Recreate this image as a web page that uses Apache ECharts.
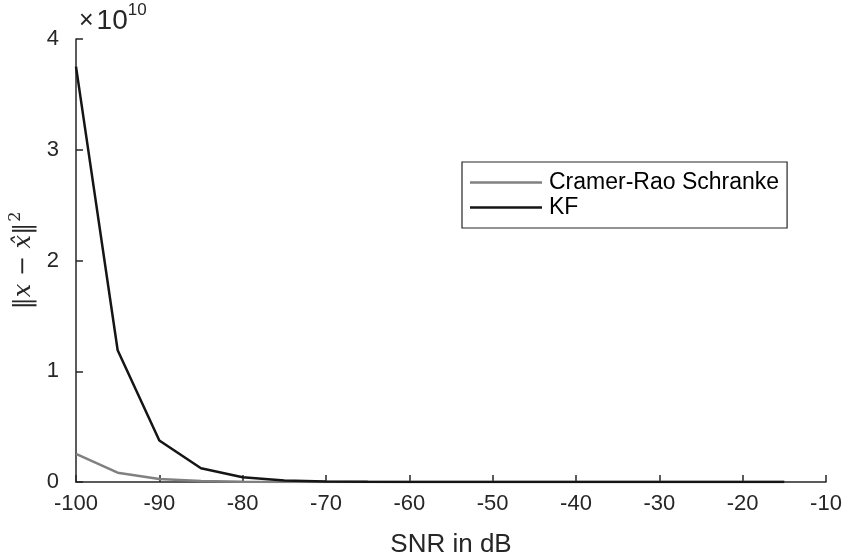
<!DOCTYPE html>
<html>
<head>
<meta charset="utf-8">
<script src="https://cdn.jsdelivr.net/npm/echarts@6/dist/echarts.min.js"></script>
<style>
  html, body { margin: 0; padding: 0; background: #fff; }
  #chart { width: 842px; height: 557px; }
</style>
</head>
<body>
<div id="chart"></div>
<script>
// SNR sweep in dB
const snrDb = [-100, -95, -90, -85, -80, -75, -70, -65, -60, -55, -50, -45, -40, -35, -30, -25, -20, -15];

// Squared estimation error, in units of 1e10
const cramerRao = [0.253, 0.084, 0.027, 0.0085, 0.0027, 0.00085, 0.00027, 0.000085, 0.000027, 0.0000085, 0.0000027, 0.00000085, 0.00000027, 0.000000085, 0.000000027, 0.0000000085, 0.0000000027, 0.00000000085];
const kalman = [3.75, 1.19, 0.375, 0.124, 0.043, 0.0135, 0.0043, 0.00135, 0.00043, 0.000135, 0.000043, 0.0000135, 0.0000043, 0.00000135, 0.00000043, 0.000000135, 0.000000043, 0.0000000135];

const seriesNames = ['Cramer-Rao Schranke', 'KF'];
const seriesColors = ['#808080', '#151515'];

const xTicks = { min: -100, max: -10, step: 10 };
const yTicks = { min: 0, max: 4, step: 1 };

const font = '"Liberation Sans", Arial, Helvetica, sans-serif';
const axisColor = '#262626';

const chart = echarts.init(document.getElementById('chart'), null, { renderer: 'canvas' });

const pairs = (ys) => snrDb.map((x, i) => [x, ys[i]]);

chart.setOption({
  animation: false,
  backgroundColor: '#fff',
  grid: { left: 76, right: 16, top: 39, bottom: 75, containLabel: false, outerBoundsMode: 'none' },
  xAxis: {
    type: 'value',
    min: xTicks.min, max: xTicks.max, interval: xTicks.step,
    name: 'SNR in dB',
    nameLocation: 'middle',
    nameGap: 50,
    nameTextStyle: { fontFamily: font, fontSize: 26, color: axisColor },
    axisLine: { show: true, onZero: false, lineStyle: { color: axisColor, width: 1.5 } },
    axisTick: { show: true, inside: true, length: 7, lineStyle: { color: axisColor, width: 1.5 } },
    axisLabel: { fontFamily: font, fontSize: 22, color: axisColor, margin: 11 },
    splitLine: { show: false }
  },
  yAxis: {
    type: 'value',
    min: yTicks.min, max: yTicks.max, interval: yTicks.step,
    name: '{b|‖}{i|x}{b| − }{i|x̂}{b|‖}{s|2}',
    nameLocation: 'middle',
    nameRotate: 90,
    nameGap: 28,
    nameTextStyle: {
      color: axisColor,
      rich: {
        b: { fontFamily: 'DejaVu Serif', fontSize: 24, color: axisColor },
        i: { fontFamily: 'DejaVu Serif', fontStyle: 'italic', fontSize: 24, color: axisColor },
        s: { fontFamily: 'DejaVu Serif', fontSize: 16, color: axisColor, padding: [0, 0, 16, 1] }
      }
    },
    axisLine: { show: true, onZero: false, lineStyle: { color: axisColor, width: 1.5 } },
    axisTick: { show: true, inside: true, length: 7, lineStyle: { color: axisColor, width: 1.5 } },
    axisLabel: { fontFamily: font, fontSize: 22, color: axisColor, margin: 17 },
    splitLine: { show: false }
  },
  legend: {
    orient: 'vertical',
    left: 462, top: 162,
    padding: [8, 8, 8, 8],
    itemGap: 0,
    itemWidth: 72,
    itemHeight: 2.5,
    icon: 'rect',
    backgroundColor: '#fff',
    borderColor: axisColor,
    borderWidth: 1.2,
    borderRadius: 0,
    textStyle: { fontFamily: font, fontSize: 23, color: '#000', lineHeight: 25, padding: [0, 0, 0, 2] },
    data: seriesNames
  },
  graphic: [{
    type: 'text',
    left: 79, top: 2,
    style: {
      text: '{x|×}{n|10}{s|10}',
      rich: {
        x: { fontFamily: font, fontSize: 25, fill: axisColor, padding: [7, 3, 0, 0] },
        n: { fontFamily: font, fontSize: 28, fill: axisColor, padding: [8, 0, 0, 0] },
        s: { fontFamily: font, fontSize: 17, fill: axisColor, padding: [0, 0, 14, 0] }
      }
    }
  }],
  series: [
    {
      name: seriesNames[0], type: 'line', data: pairs(cramerRao),
      showSymbol: false, symbol: 'none',
      color: seriesColors[0],
      lineStyle: { color: seriesColors[0], width: 2.5 },
      z: 2
    },
    {
      name: seriesNames[1], type: 'line', data: pairs(kalman),
      showSymbol: false, symbol: 'none',
      color: seriesColors[1],
      lineStyle: { color: seriesColors[1], width: 2.5 },
      z: 3
    }
  ]
});
</script>
</body>
</html>
